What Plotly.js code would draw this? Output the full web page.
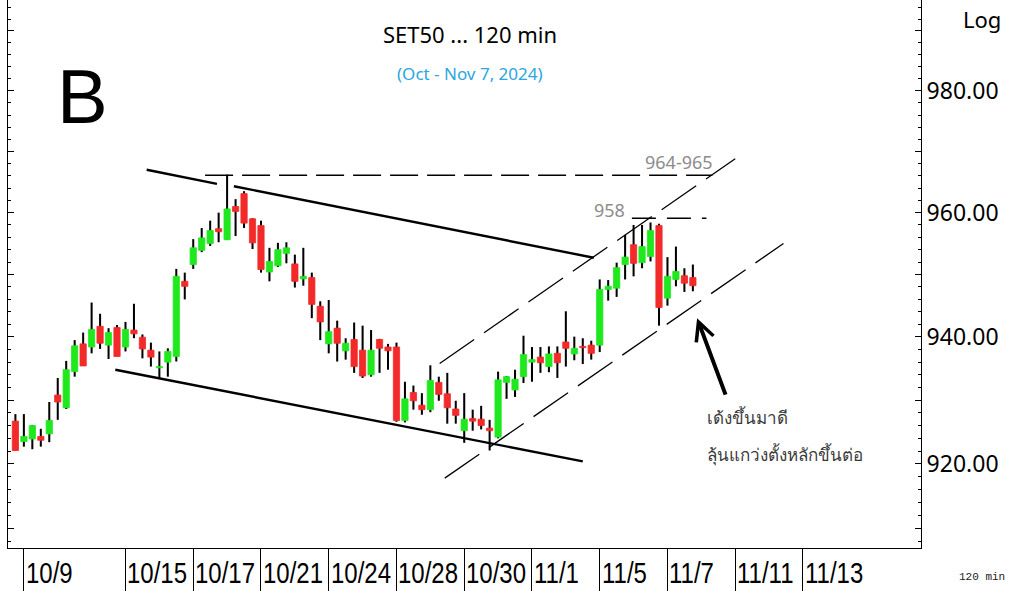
<!DOCTYPE html>
<html><head><meta charset="utf-8">
<script src="https://cdn.plot.ly/plotly-3.0.1.min.js"></script>
<style>html,body{margin:0;padding:0;background:#fff}#chart{width:1010px;height:591px}</style>
</head><body><div id="chart"></div>
<script>
// ---- data (120-min bars, 10/8 last bar .. 11/7) ----
const opens  = [926.7,923.5,923.9,924.3,924.7,930.8,928.8,934.5,938.9,938.4,941.7,938.7,941.5,938.4,941.1,939.95,937.9,935.1,936.0,936.9,948.9,951.6,953.9,955.0,957.4,955.6,961.0,963.1,959.0,957.9,950.4,951.4,953.4,951.7,949.3,949.5,944.9,938.9,941.4,937.8,939.6,937.9,934.0,939.6,938.4,938.4,926.8,931.2,929.2,928.5,932.8,931.0,928.6,925.2,927.1,927.0,925.6,924.2,932.8,931.6,933.7,936.0,936.8,935.3,937.4,939.2,937.3,938.5,938.7,938.7,947.6,947.8,951.6,954.8,951.9,952.9,957.9,946.2,949.2,949.8,949.5];
const highs  = [927.8,927.8,926.1,925.5,929.7,933.5,936.2,939.5,940.7,945.5,943.7,941.4,941.9,942.4,945.3,940.4,939.1,937.7,938.2,950.9,950.3,955.7,957.5,958.7,960.0,966.2,962.2,963.5,959.1,958.7,954.3,955.1,955.2,953.2,954.3,950.3,945.7,945.9,942.6,939.8,942.3,941.8,941.1,939.7,938.9,939.1,932.9,932.3,931.1,935.5,933.7,934.3,929.9,931.1,928.5,929.1,926.9,934.5,933.8,934.8,940.2,938.4,938.4,938.5,938.5,944.1,940.05,939.8,939.4,949.2,949.1,951.9,956.4,958.0,958.0,958.4,958.2,952.8,954.5,951.0,951.6];
const lows   = [922.1,922.7,922.3,922.7,923.4,926.9,928.6,933.7,935.4,937.4,938.1,936.5,936.9,937.7,939.8,936.6,935.3,933.5,933.7,936.1,946.0,950.9,953.6,954.6,955.2,955.6,956.2,957.5,954.1,950.3,948.9,951.2,951.8,947.9,948.2,943.0,939.5,937.4,936.1,936.4,934.3,933.5,933.7,934.3,934.8,926.6,926.5,928.5,927.7,928.1,929.9,926.3,926.3,923.3,925.2,925.4,922.1,924.0,930.2,930.5,932.7,932.9,934.3,934.4,933.5,935.3,936.3,935.7,936.4,937.6,945.8,946.4,949.2,949.7,951.0,952.1,941.8,945.0,948.1,947.2,947.3];
const closes = [922.1,924.3,926.0,923.7,926.8,929.7,934.8,938.6,935.4,941.2,939.0,940.7,936.9,941.2,940.5,938.1,936.8,935.3,937.7,949.7,948.1,954.3,955.9,957.1,956.9,960.6,960.2,958.3,955.1,950.8,952.1,954.0,954.3,948.9,949.7,945.2,942.4,940.85,939.0,939.0,935.3,933.8,937.9,938.2,937.8,926.8,930.2,929.9,928.5,933.1,930.9,928.8,927.6,927.0,926.7,926.0,925.2,933.2,933.7,933.3,937.2,936.4,935.9,937.3,935.9,938.2,938.2,938.3,937.4,947.6,948.1,951.1,952.8,951.8,954.5,957.1,944.7,949.7,950.5,948.6,948.2];

// session separators: first bar index of each labelled day
const dayLabels   = ['10/9','10/15','10/17','10/21','10/24','10/28','10/30','11/1','11/5','11/7','11/11','11/13'];
const dayStartBar = [1,13,21,29,37,45,53,61,69,77,85,93];

// price axis labels
const priceLabels = [980, 960, 940, 920];

// drawn trend lines [bar0, price0, bar1, price1]
const solidLines  = [[15.5,967.0,23.8,964.7],[25.8,964.3,68.3,952.7],[11.8,934.8,67.0,920.4]];
const topDash     = [22.4,966.1,82.3,966.1];
const dash958     = [72.8,959.1,81.6,959.1];
const channelUp   = [50.1,935.8,85.0,968.8];
const channelDown = [50.7,917.8,90.7,955.0];

// annotation texts
const titleText = 'SET50 ... 120 min';
const subText = '(Oct - Nov 7, 2024)';
const levelTop = {text:'964-965', bar:78.4, price:968.3};
const level958 = {text:'958', bar:70.1, price:960.5};
const noteLines = [{text:'เด้งขึ้นมาดี', bar:81.4, price:927.3},{text:'ลุ้นแกว่งตั้งหลักขึ้นต่อ', bar:81.4, price:921.5}];
const arrowTip = {bar:80.5, price:943.0};

// ---- build traces ----
const idx = opens.map((_, i) => i);
const upX=[],upB=[],upH=[],dnX=[],dnB=[],dnH=[];
idx.forEach(i => {
  if (closes[i] >= opens[i]) { upX.push(i); upB.push(opens[i]); upH.push(closes[i]-opens[i]); }
  else { dnX.push(i); dnB.push(closes[i]); dnH.push(opens[i]-closes[i]); }
});
const GREEN = '#1fe81f', RED = '#f22a2a';
const traces = [
  {type:'bar', x:idx, base:lows, y:idx.map(i=>highs[i]-lows[i]), width:0.24,
   marker:{color:'#000', line:{width:0}}, hoverinfo:'skip', showlegend:false},
  {type:'bar', x:upX, base:upB, y:upH, width:0.74,
   marker:{color:GREEN, line:{color:GREEN, width:0.8}}, showlegend:false},
  {type:'bar', x:dnX, base:dnB, y:dnH, width:0.74,
   marker:{color:RED, line:{color:RED, width:0.8}}, showlegend:false}
];

// ---- axes ticks ----
const majorVals = [], majorText = [], minorVals = [];
for (let v = 900; v <= 1000; v += 10) { majorVals.push(v); majorText.push(priceLabels.includes(v) ? v.toFixed(2) : ''); }
for (let v = 900; v <= 1000; v += 2) if (v % 10) minorVals.push(v);

function seg(l, dash, w) {
  return {type:'line', xref:'x', yref:'y', x0:l[0], y0:l[1], x1:l[2], y1:l[3],
          line:{color:'#000', width:w, dash:dash}, layer:'below'};
}
const shapes = [];
solidLines.forEach(l => shapes.push(seg(l, 'solid', 2.4)));
shapes.push(seg(topDash, '28px,9px', 1.4));
shapes.push(seg(dash958, '24px,11px', 1.6));
shapes.push(seg(channelUp, '42px,12px', 1.3));
shapes.push(seg(channelDown, '42px,12px', 1.3));

const L = Math.log10;
const annotations = [
  {xref:'paper', yref:'paper', x:0.0815, y:0.823, text:'B', showarrow:false, xanchor:'center', yanchor:'middle',
   font:{family:'Liberation Sans, Arial, sans-serif', size:76, color:'#000'}},
  {xref:'paper', yref:'paper', x:(470-8)/913, y:1-73/548, text:subText, showarrow:false, xanchor:'center', yanchor:'middle',
   font:{family:'Noto Sans, Open Sans, sans-serif', size:17, color:'#2aa6e0'}},
  {xref:'x', yref:'y', x:levelTop.bar, y:L(levelTop.price), text:levelTop.text, showarrow:false, xanchor:'center', yanchor:'middle',
   font:{family:'Noto Sans, Open Sans, sans-serif', size:18, color:'#8c8c8c'}},
  {xref:'x', yref:'y', x:level958.bar, y:L(level958.price), text:level958.text, showarrow:false, xanchor:'center', yanchor:'middle',
   font:{family:'Noto Sans, Open Sans, sans-serif', size:18, color:'#8c8c8c'}},
  {xref:'x', yref:'y', x:arrowTip.bar, y:L(arrowTip.price), text:'', showarrow:true, arrowhead:5, arrowsize:0.9,
   arrowwidth:4, arrowcolor:'#000', ax:29, ay:78},
  {xref:'paper', yref:'paper', x:(982-8)/913, y:1-19/548, text:'Log', showarrow:false, xanchor:'center', yanchor:'middle',
   font:{family:'Noto Sans, Open Sans, sans-serif', size:22, color:'#000'}},
  {xref:'paper', yref:'paper', x:(982-8)/913, y:1-577/548, text:'120 min', showarrow:false, xanchor:'center', yanchor:'middle',
   font:{family:'Liberation Mono, DejaVu Sans Mono, monospace', size:11, color:'#222'}}
];
noteLines.forEach(n => annotations.push({xref:'x', yref:'y', x:n.bar, y:L(n.price), text:n.text, showarrow:false,
   xanchor:'left', yanchor:'middle', font:{family:'Noto Sans, sans-serif', size:17, color:'#3a3a3a'}}));
dayLabels.forEach((t, k) => annotations.push({xref:'x', yref:'paper', x:dayStartBar[k], y:0, text:t, showarrow:false,
   xanchor:'left', yanchor:'middle', xshift:1, yshift:-24, borderpad:0,
   font:{family:'Liberation Sans, Arial, sans-serif', size:24, color:'#000'}}));

const layout = {
  width:1010, height:591,
  margin:{l:8, r:89, t:0, b:43, pad:0},
  paper_bgcolor:'#fff', plot_bgcolor:'#fff',
  barmode:'overlay', showlegend:false,
  title:{text:titleText, x:470/1010, xanchor:'center', y:1-35/591, yanchor:'middle', yref:'container',
         font:{family:'Noto Sans, Open Sans, sans-serif', size:22, color:'#000'}},
  xaxis:{range:[-0.874, 106.94], showgrid:false, zeroline:false, showline:true, linecolor:'#000', linewidth:1,
         tickmode:'array', tickvals:dayStartBar, ticks:'outside', ticklen:43, tickwidth:1, tickcolor:'#000',
         showticklabels:false, fixedrange:true},
  yaxis:{type:'log', side:'right', range:[Math.log10(907.0), Math.log10(995.2)], showgrid:false, zeroline:false,
         showline:true, linecolor:'#000', linewidth:1, mirror:'allticks',
         tickmode:'array', tickvals:majorVals, ticktext:majorText, ticks:'inside', ticklen:6, tickwidth:1, tickcolor:'#000',
         minor:{tickmode:'array', tickvals:minorVals, ticks:'inside', ticklen:3, tickwidth:1, tickcolor:'#000'},
         tickfont:{family:'Noto Sans, Open Sans, sans-serif', size:23, color:'#000'}, fixedrange:true},
  shapes:shapes, annotations:annotations
};
Plotly.newPlot('chart', traces, layout, {staticPlot:true, displayModeBar:false}).then(() => {
  // narrow, tall date labels like the reference's condensed face
  document.querySelectorAll('.annotation-text').forEach(el => {
    if (dayLabels.includes(el.textContent)) {
      el.style.transformBox = 'fill-box';
      el.style.transformOrigin = 'center';
      el.style.transform = 'scaleY(1.2)';
    }
  });
});
</script></body></html>
